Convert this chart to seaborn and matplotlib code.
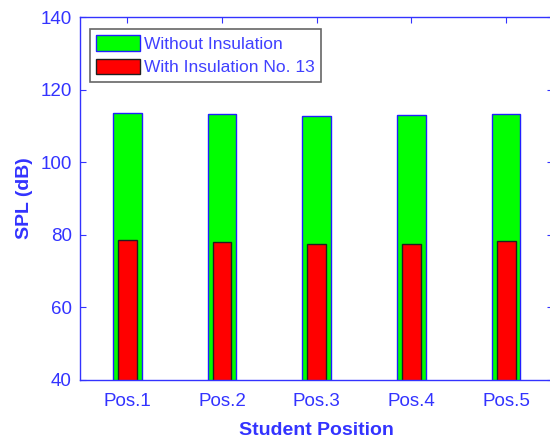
import numpy as np
import matplotlib
matplotlib.use("Agg")
import matplotlib.pyplot as plt
from matplotlib.patches import Patch
import seaborn as sns

# Data
positions = ["Pos.1", "Pos.2", "Pos.3", "Pos.4", "Pos.5"]
without_insulation = [113.5, 113.2, 112.6, 113.0, 113.3]
with_insulation = [78.6, 78.0, 77.4, 77.6, 78.3]
series_names = ["Without Insulation", "With Insulation No. 13"]

blue = "#3333ff"

sns.set_style("white")
plt.rcParams["font.family"] = ["Liberation Sans", "DejaVu Sans"]

fig = plt.figure(figsize=(5.5, 4.38), dpi=100)
ax = fig.add_axes([80 / 550, 58 / 438, 473.4 / 550, 363 / 438])

# Wide green bars, narrower red bars drawn on top
sns.barplot(x=positions, y=without_insulation, width=0.3, color="#00ff00",
            saturation=1, edgecolor="#2020ff", linewidth=1.0, ax=ax)
sns.barplot(x=positions, y=with_insulation, width=0.2, color="#ff0000",
            saturation=1, edgecolor="#202020", linewidth=1.0, ax=ax)

ax.set_xlim(-0.5, 4.5)
ax.set_ylim(40, 140)
ax.set_yticks(np.arange(40, 141, 20))

for side in ["left", "right", "top", "bottom"]:
    ax.spines[side].set_visible(True)
    ax.spines[side].set_color(blue)
    ax.spines[side].set_linewidth(1.0)

ax.tick_params(axis="both", direction="in", colors=blue, labelcolor=blue,
               labelsize=13.5, length=4, width=0.8,
               top=True, right=True, bottom=True, left=True)
ax.tick_params(axis="x", pad=9)
ax.tick_params(axis="y", pad=6)

ax.set_xlabel("Student Position", color=blue, fontsize=14, fontweight="bold",
              labelpad=9)
ax.set_ylabel("SPL (dB)", color=blue, fontsize=14, fontweight="bold",
              labelpad=5)

handles = [Patch(facecolor="#00ff00", edgecolor="#2020ff", linewidth=1.0),
           Patch(facecolor="#ff0000", edgecolor="#202020", linewidth=1.0)]
leg = ax.legend(handles, series_names, loc="upper left",
                bbox_to_anchor=(0.022, 0.967), borderaxespad=0,
                fontsize=12.5, handlelength=2.5, handleheight=1.0,
                handletextpad=0.25, labelspacing=0.4, borderpad=0.35,
                frameon=True, fancybox=False, edgecolor="#666666",
                framealpha=1)
leg.get_frame().set_linewidth(1.2)
for t in leg.get_texts():
    t.set_color("#4040ff")

fig.savefig("out.png", dpi=100)
